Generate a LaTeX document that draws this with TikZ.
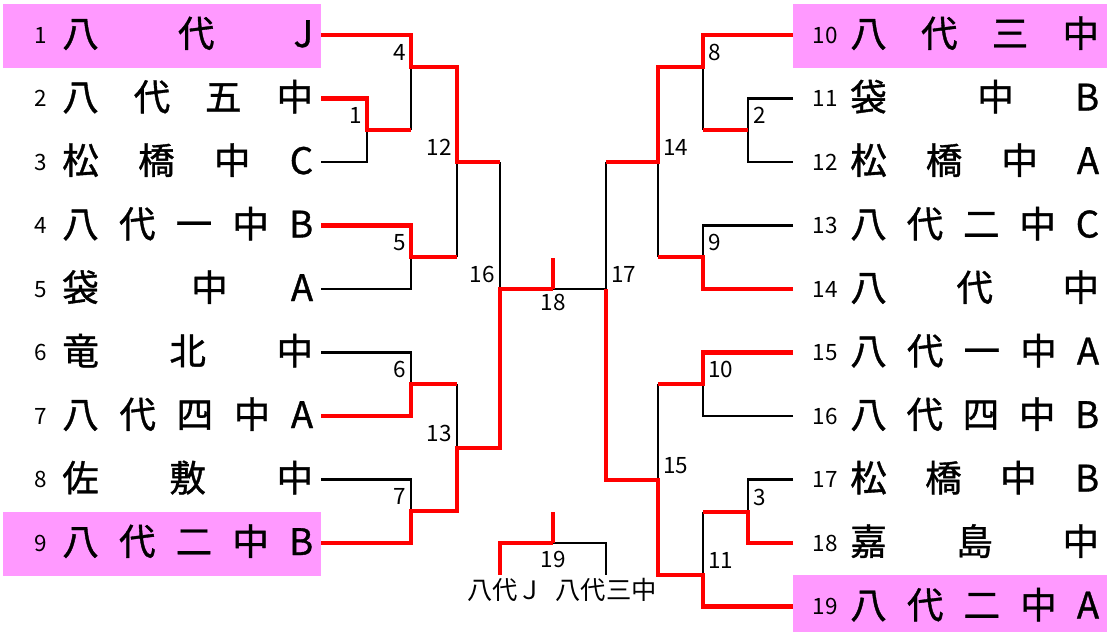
\documentclass[tikz,border=0pt]{standalone}
\usepackage{fontspec}
\setmainfont{Noto Sans CJK JP}
\newfontfamily\namefont{Noto Sans CJK JP}[FakeBold=1]
\definecolor{seedpink}{RGB}{255,153,255}

\begin{document}
\begin{tikzpicture}[x=0.025cm, y=-0.025cm,
    win/.style={draw=red, line width=3.5pt},
    lose/.style={draw=black, line width=2pt},
    teamno/.style={anchor=base, inner sep=0pt, font=\fontsize{16}{16}\selectfont},
    teamname/.style={anchor=base west, inner sep=0pt, font=\namefont\fontsize{26}{26}\selectfont},
    mleft/.style={anchor=base east, inner sep=0pt, font=\fontsize{16}{16}\selectfont},
    mright/.style={anchor=base west, inner sep=0pt, font=\fontsize{16}{16}\selectfont},
    mmid/.style={anchor=base, inner sep=0pt, font=\fontsize{16}{16}\selectfont},
    pair/.style={anchor=base, inner sep=0pt, font=\fontsize{18}{18}\selectfont}]
    \useasboundingbox (0,0) rectangle (1107,632);

    % シード枠 (Seed boxes)
    \fill[seedpink] (3,4) rectangle (321,68);
    \fill[seedpink] (3,512) rectangle (321,576);
    \fill[seedpink] (793,4) rectangle (1107,68);
    \fill[seedpink] (793,575) rectangle (1107,632);

    % 左側のチーム (Left teams)
    \foreach \i/\name in {1/{八\hfill 代\hfill J}, 2/{八\hfill 代\hfill 五\hfill 中},
        3/{松\hfill 橋\hfill 中\hfill C}, 4/{八\hfill 代\hfill 一\hfill 中\hfill B},
        5/{袋\hfill\hspace{0.8em}中\hfill A}, 6/{竜\hfill 北\hfill 中},
        7/{八\hfill 代\hfill 四\hfill 中\hfill A}, 8/{佐\hfill 敷\hfill 中},
        9/{八\hfill 代\hfill 二\hfill 中\hfill B}} {
      \pgfmathsetmacro\ty{35+63.5*(\i-1)}
      \coordinate (t\i) at (321,\ty);
      \node[teamno] (n\i) at (41,\ty+8) {\i};
      \node[teamname] (s\i) at (62,\ty+12) {\makebox[6.27cm][s]{\name}};
    }

    % 右側のチーム (Right teams)
    \foreach \i/\name in {10/{八\hfill 代\hfill 三\hfill 中}, 11/{袋\hfill\hspace{0.8em}中\hfill B},
        12/{松\hfill 橋\hfill 中\hfill A}, 13/{八\hfill 代\hfill 二\hfill 中\hfill C},
        14/{八\hfill 代\hfill 中}, 15/{八\hfill 代\hfill 一\hfill 中\hfill A},
        16/{八\hfill 代\hfill 四\hfill 中\hfill B}, 17/{松\hfill 橋\hfill 中\hfill B},
        18/{嘉\hfill 島\hfill 中}, 19/{八\hfill 代\hfill 二\hfill 中\hfill A}} {
      \pgfmathsetmacro\ty{35+63.5*(\i-10)}
      \coordinate (t\i) at (793,\ty);
      \node[teamno] (n\i) at (825,\ty+8) {\i};
      \node[teamname] (s\i) at (850,\ty+12) {\makebox[6.22cm][s]{\name}};
    }

    % 試合の分岐点 (Match points)
    \coordinate (m1) at (367,130);
    \coordinate (m4) at (411,67);
    \coordinate (m5) at (411,257);
    \coordinate (m12) at (457,162);
    \coordinate (m6) at (411,384);
    \coordinate (m7) at (411,511);
    \coordinate (m13) at (457,448);
    \coordinate (m16) at (500,289);
    \coordinate (m18) at (553,289);
    \coordinate (f18) at (553,258);
    \coordinate (m2) at (748,130);
    \coordinate (m8) at (703,67);
    \coordinate (m9) at (703,257);
    \coordinate (m14) at (658,162);
    \coordinate (m10) at (703,384);
    \coordinate (m3) at (748,512);
    \coordinate (m11) at (703,575);
    \coordinate (m15) at (658,480);
    \coordinate (m17) at (606,289);
    \coordinate (m19) at (553,543);
    \coordinate (f19) at (553,512);
    \coordinate (a19) at (500,575);
    \coordinate (b19) at (606,575);

    % 負け側の線 (Black lines)
    \draw[lose] (t3) -| (m1);
    \draw[lose] (m4) -- (m1 -| m4);
    \draw[lose] (t5) -| (m5);
    \draw[lose] (m12) -- (m5 -| m12);
    \draw[lose] (t6) -| (m6);
    \draw[lose] (t8) -| (m7);
    \draw[lose] (m13) -- (m6 -| m13);
    \draw[lose] (m16) -- (m12 -| m16);
    \draw[lose] (m18) -- (m17) -- (m14 -| m17);
    \draw[lose] (t11) -| (m2) |- (t12);
    \draw[lose] (m8) -- (m2 -| m8);
    \draw[lose] (t13) -| (m9);
    \draw[lose] (m14) -- (m9 -| m14);
    \draw[lose] (t16) -| (m10);
    \draw[lose] (m10 -| m15) -- (m15);
    \draw[lose] (t17) -| (m3);
    \draw[lose] (m3 -| m11) -- (m11);
    \draw[lose] (m19) -| (b19);

    % 勝ち上がりの線 (Red lines)
    \draw[win] (t2) -| (m1) -- (m1 -| m4);
    \draw[win] (t1) -| (m4) -| (m12) -- (m12 -| m16);
    \draw[win] (t4) -| (m5) -- (m5 -| m12);
    \draw[win] (t7) -| (m6) -- (m6 -| m13);
    \draw[win] (t9) -| (m7) -| (m13) -| (m16) -- (m18);
    \draw[win] (f18) -- (m18);
    \draw[win] (m2) -- (m2 -| m8);
    \draw[win] (t10) -| (m8) -| (m14) -- (m14 -| m17);
    \draw[win] (t14) -| (m9) -- (m9 -| m14);
    \draw[win] (t15) -| (m10) -- (m10 -| m15);
    \draw[win] (t18) -| (m3) -- (m3 -| m11);
    \draw[win] (t19) -| (m11) -| (m15) -| (m17);
    \draw[win] (a19) |- (m19);
    \draw[win] (f19) -- (m19);

    % 試合番号 (Match numbers)
    \foreach \m in {1,4,5,12,6,7,13,16}
      \node[mleft] (l\m) at ([shift={(-5,-7)}]m\m) {\m};
    \foreach \m in {2,8,9,14,10,3,11,15,17}
      \node[mright] (l\m) at ([shift={(5,-7)}]m\m) {\m};
    \node[mmid] (l18) at ([shift={(0,21)}]m18) {18};
    \node[mmid] (l19) at ([shift={(0,24)}]m19) {19};

    % 対戦カード (Pairing)
    \node[pair] (p19a) at (505,599) {八代Ｊ};
    \node[pair] (p19b) at (606,599) {八代三中};

\end{tikzpicture}
\end{document}
